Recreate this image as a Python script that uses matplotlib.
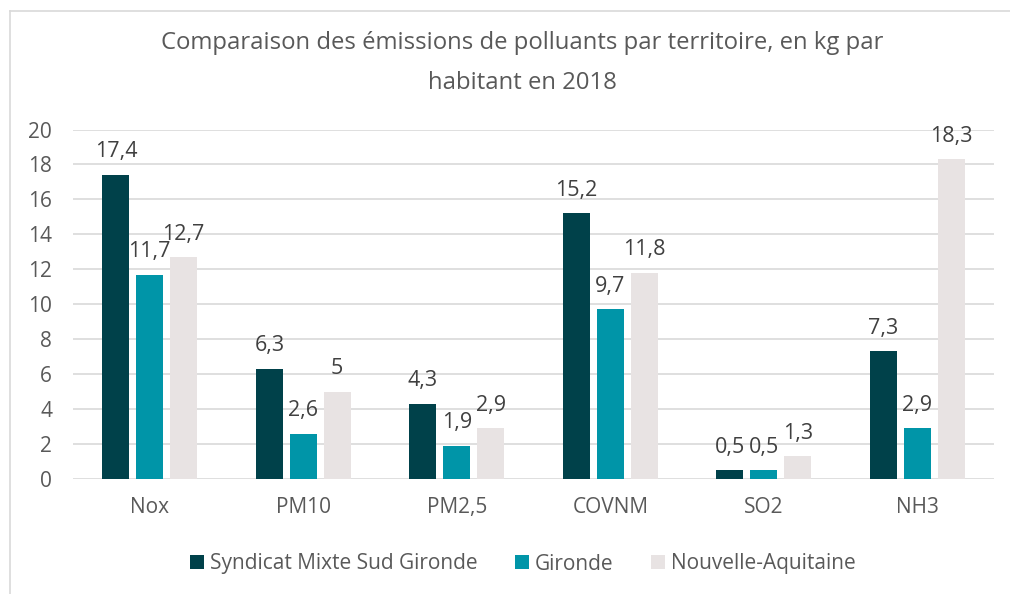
import numpy as np
import matplotlib.pyplot as plt

polluants = ['Nox', 'PM10', 'PM2,5', 'COVNM', 'SO2', 'NH3']
sud_gironde = [17.4, 6.3, 4.3, 15.2, 0.5, 7.3]
gironde = [11.7, 2.6, 1.9, 9.7, 0.5, 2.9]
nouvelle_aquitaine = [12.7, 5.0, 2.9, 11.8, 1.3, 18.3]
series_noms = ['Syndicat Mixte Sud Gironde', 'Gironde', 'Nouvelle-Aquitaine']

couleurs = ['#00414a', '#0095a8', '#e8e3e3']
gris_texte = '#595959'

plt.rcParams['font.family'] = ['Open Sans', 'DejaVu Sans']

fig = plt.figure(figsize=(10.1, 5.94), dpi=100)
ax = fig.add_axes([73 / 1010, 1 - 479 / 594, 921 / 1010, 349.5 / 594])

x = np.arange(len(polluants))
largeur = 0.176
pas = 0.221
for i, (vals, nom, c) in enumerate(zip([sud_gironde, gironde, nouvelle_aquitaine], series_noms, couleurs)):
    pos = x + (i - 1) * pas
    bars = ax.bar(pos, vals, width=largeur, color=c, label=nom, zorder=3)
    for b, v in zip(bars, vals):
        txt = f'{v:g}'.replace('.', ',')
        ax.annotate(txt, (b.get_x() + b.get_width() / 2, v), xytext=(0, 9),
                    textcoords='offset points', ha='center', va='bottom',
                    fontsize=15.5, color='#404040')

ax.set_xlim(-0.5, len(polluants) - 0.5)
ax.set_ylim(0, 20)
ax.set_yticks(range(0, 21, 2))
ax.set_xticks(x)
ax.set_xticklabels(polluants)
ax.grid(axis='y', color='#d9d9d9', linewidth=1.2, zorder=0)
for s in ax.spines.values():
    s.set_visible(False)
ax.tick_params(axis='both', length=0, labelsize=15, colors=gris_texte)
ax.tick_params(axis='x', pad=13)
ax.tick_params(axis='y', pad=15)

fig.text(522 / 1010, 1 - 63 / 594, 'Comparaison des émissions de polluants par territoire, en kg par\nhabitant en 2018',
         ha='center', va='center', fontsize=17.2, color=gris_texte, linespacing=1.9)

fig.legend(loc='center', bbox_to_anchor=(0.518, 1 - 564 / 594), ncol=3, frameon=False,
           fontsize=15, labelcolor=gris_texte, handlelength=0.65, handleheight=0.65,
           handletextpad=0.3, columnspacing=1.8)

# cadre gris clair en haut et à gauche
fig.add_artist(plt.Line2D([10 / 1010, 1], [1 - 11 / 594, 1 - 11 / 594], color='#d9d9d9', lw=1.2))
fig.add_artist(plt.Line2D([10 / 1010, 10 / 1010], [0, 1 - 11 / 594], color='#d9d9d9', lw=1.2))

fig.savefig('out.png', dpi=100)
